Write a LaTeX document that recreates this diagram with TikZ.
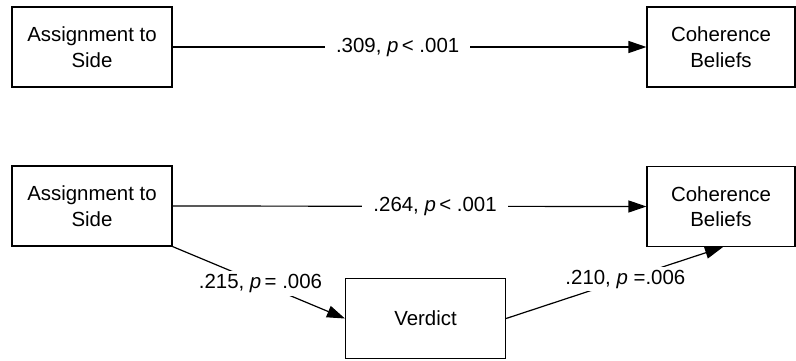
\documentclass[tikz,border=0pt]{standalone}
\usepackage{fontspec}
\setmainfont{Liberation Sans}
\usetikzlibrary{arrows.meta,calc}
\begin{document}
\begin{tikzpicture}[x=1bp,y=-1bp,
  every node/.style={font=\fontsize{20.5}{25.5}\selectfont},
  box/.style={draw,line width=1.1bp,inner sep=0pt,align=center,minimum height=80bp},
  wide/.style={box,minimum width=160bp},
  narrow/.style={box,minimum width=148bp},
  link/.style={line width=1.2bp,-{Triangle[length=18bp,width=12bp]}},
  coef/.style={fill=white,inner xsep=11bp,inner ysep=3bp}]
\useasboundingbox (0,0) rectangle (796,360);

% total effect
\node[wide]   (A1) at (92,47)  {Assignment to\\Side};
\node[narrow] (C1) at (721,47) {Coherence\\Beliefs};
\draw[link] (A1.east) -- node[coef,pos=0.475] (l1) {.309, \textit{p}\,< .001} (C1.west);

% mediated model
\node[wide]   (A2) at (92,206) {Assignment to\\Side};
\node[narrow] (C2) at (721,206.5)  {Coherence\\Beliefs};
\node[wide,minimum height=79.5bp] (V) at (425.5,318.5) {Verdict};
\coordinate (C2in) at ($(C2.south)+(2,0)$);

\draw[link] (A2.east) -- node[coef,pos=0.554] (l2) {.264, \textit{p}\,< .001} (C2.west);
\draw[link] (A2.south east) -- node[coef,pos=0.51] (l3) {.215, \textit{p}\,= .006} (V.west);
\draw[link] (V.east) -- node[coef,pos=0.55] (l4) {.210, \textit{p} =.006} (C2in);
\end{tikzpicture}
\end{document}
